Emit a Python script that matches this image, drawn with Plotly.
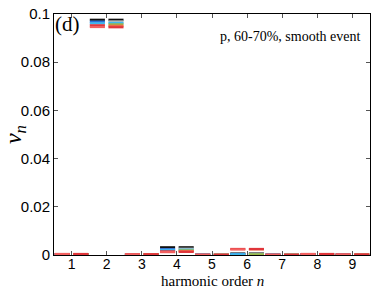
import plotly.graph_objects as go

harmonics = [1, 2, 3, 4, 5, 6, 7, 8, 9]
tick_labels = ["1", "2", "3", "4", "5", "6", "7", "8", "9"]

# left-hand segments of each harmonic (one value per harmonic)
left_black = [0.0003, 0.0976, 0.0002, 0.0032, 0.0001, 0.0006, 0.0001, 0.0002, 0.0001]
left_blue = [0.0003, 0.0968, 0.0002, 0.0024, 0.0001, 0.0004, 0.0001, 0.0002, 0.0001]
left_cyan = [0.0003, 0.0961, 0.0002, 0.0020, 0.0001, 0.0003, 0.0001, 0.0002, 0.0001]
left_red = [0.0004, 0.0953, 0.0003, 0.0015, 0.0001, 0.0025, 0.0001, 0.0004, 0.0002]
left_pink = [0.0004, 0.0946, 0.0003, 0.0012, 0.0001, 0.0023, 0.0001, 0.0004, 0.0002]

# right-hand segments of each harmonic
right_black = [0.0003, 0.0976, 0.0002, 0.0032, 0.0001, 0.0006, 0.0001, 0.0002, 0.0001]
right_gray = [0.0003, 0.0969, 0.0002, 0.0026, 0.0001, 0.0004, 0.0001, 0.0002, 0.0001]
right_cyan = [0.0003, 0.0963, 0.0002, 0.0022, 0.0001, 0.0003, 0.0001, 0.0002, 0.0001]
right_green = [0.0003, 0.0957, 0.0002, 0.0019, 0.0001, 0.0003, 0.0001, 0.0002, 0.0001]
right_orange = [0.0004, 0.0951, 0.0003, 0.0016, 0.0001, 0.0023, 0.0001, 0.0004, 0.0002]
right_red = [0.0004, 0.0945, 0.0003, 0.0013, 0.0001, 0.0025, 0.0001, 0.0004, 0.0002]

left_series = [
    (left_black, "#111111"),
    (left_blue, "#2a6fd6"),
    (left_cyan, "#3fb8ee"),
    (left_red, "#e0353a"),
    (left_pink, "#f26060"),
]
right_series = [
    (right_black, "#111111"),
    (right_gray, "#b9b9b9"),
    (right_cyan, "#3fb8ee"),
    (right_green, "#9bb84a"),
    (right_orange, "#ee6a4a"),
    (right_red, "#e0353a"),
]

fig = go.Figure()


def add_segments(values, color, lo, hi):
    xs, ys = [], []
    for n, v in zip(harmonics, values):
        xs += [n + lo, n + hi, None]
        ys += [v, v, None]
    fig.add_trace(go.Scatter(x=xs, y=ys, mode="lines",
                             line=dict(color=color, width=2.2),
                             showlegend=False, hoverinfo="skip"))


for vals, col in left_series:
    add_segments(vals, col, -0.48, -0.05)
for vals, col in right_series:
    add_segments(vals, col, 0.05, 0.48)

serif = "Liberation Serif, DejaVu Serif, serif"
sans = "Liberation Sans, Arial, sans-serif"

fig.update_layout(
    width=374, height=291,
    margin=dict(l=54, r=4, t=14, b=36),
    plot_bgcolor="white", paper_bgcolor="white",
    font=dict(family=sans, size=15, color="black"),
    xaxis=dict(range=[0.5, 9.5], tickvals=harmonics, ticktext=tick_labels,
               ticks="inside", ticklen=4, tickcolor="#555",
               tickfont=dict(size=14), ticklabelstandoff=-4,
               showline=True, linecolor="black", linewidth=1, mirror="ticks",
               showgrid=False, zeroline=False, automargin=False),
    yaxis=dict(range=[0, 0.1], tickvals=[0, 0.02, 0.04, 0.06, 0.08, 0.1],
               ticktext=["0", "0.02", "0.04", "0.06", "0.08", "0.1"],
               ticks="inside", ticklen=4, tickcolor="#555",
               showline=True, linecolor="black", linewidth=1, mirror="ticks",
               showgrid=False, zeroline=False, automargin=False,
               title=dict(text="<i>v<sub>n</sub></i>",
                          font=dict(family=serif, size=24), standoff=4)),
    annotations=[
        dict(text="(d)", x=0, y=1, xref="paper", yref="paper",
             xanchor="left", yanchor="top", showarrow=False,
             font=dict(family=serif, size=21), xshift=-1, yshift=4),
        dict(text="p, 60-70%, smooth event", x=0.975, y=0.905,
             xref="paper", yref="paper", xanchor="right", yanchor="middle",
             showarrow=False, font=dict(family=serif, size=14)),
        dict(text="harmonic order <i>n</i>", x=0.5, y=0, yshift=-36,
             xref="paper", yref="paper", xanchor="center", yanchor="bottom",
             showarrow=False, font=dict(family=serif, size=15)),
    ],
)

fig.write_html("out.html",
               config={"displayModeBar": False},
               post_script="document.body.style.margin='0';")
